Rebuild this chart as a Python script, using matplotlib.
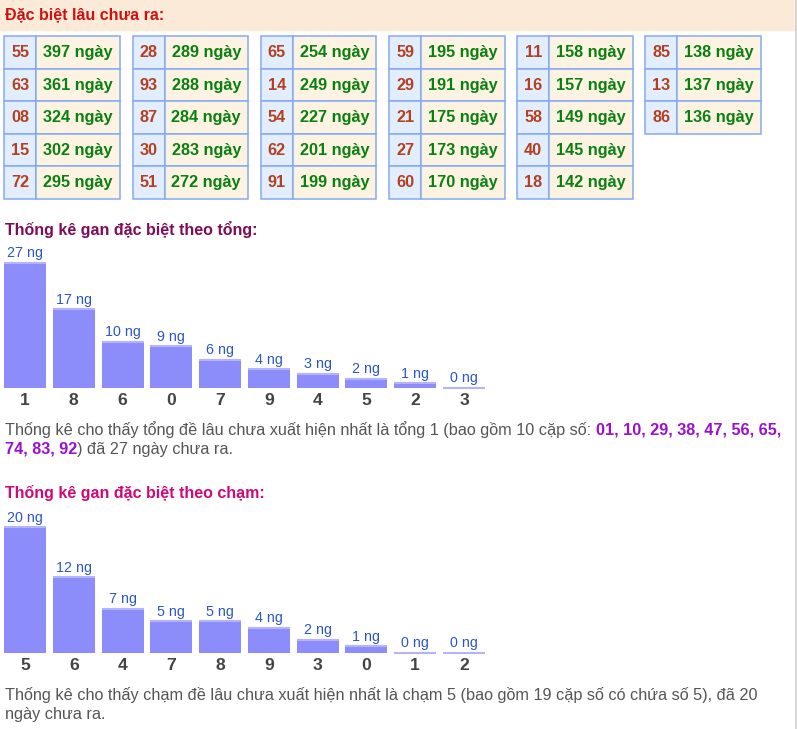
import matplotlib.pyplot as plt
from matplotlib.patches import Rectangle

plt.rcParams['font.family'] = ['Liberation Sans', 'DejaVu Sans']

# data
title_top = "Đặc biệt lâu chưa ra:"
pairs = ["55", "63", "08", "15", "72", "28", "93", "87", "30", "51",
         "65", "14", "54", "62", "91", "59", "29", "21", "27", "60",
         "11", "16", "58", "40", "18", "85", "13", "86"]
days = [397, 361, 324, 302, 295, 289, 288, 284, 283, 272,
        254, 249, 227, 201, 199, 195, 191, 175, 173, 170,
        158, 157, 149, 145, 142, 138, 137, 136]

tong_title = "Thống kê gan đặc biệt theo tổng:"
tong_labels = ["1", "8", "6", "0", "7", "9", "4", "5", "2", "3"]
tong_values = [27, 17, 10, 9, 6, 4, 3, 2, 1, 0]
tong_text = "Thống kê cho thấy tổng đề lâu chưa xuất hiện nhất là tổng 1 (bao gồm 10 cặp số: "
tong_nums1 = "01, 10, 29, 38, 47, 56, 65,"
tong_nums2 = "74, 83, 92"
tong_end = ") đã 27 ngày chưa ra."

cham_title = "Thống kê gan đặc biệt theo chạm:"
cham_labels = ["5", "6", "4", "7", "8", "9", "3", "0", "1", "2"]
cham_values = [20, 12, 7, 5, 5, 4, 2, 1, 0, 0]
cham_text1 = "Thống kê cho thấy chạm đề lâu chưa xuất hiện nhất là chạm 5 (bao gồm 19 cặp số có chứa số 5), đã 20"
cham_text2 = "ngày chưa ra."

W, H = 797, 729
PX = 0.72  # px -> pt at dpi 100

fig = plt.figure(figsize=(W / 100, H / 100), dpi=100)
ax = fig.add_axes([0, 0, 1, 1])
ax.set_xlim(0, W)
ax.set_ylim(H, 0)
ax.axis('off')

# header band
ax.add_patch(Rectangle((0, 0), 795, 29.5, color='#fcead8', zorder=0))
ax.plot([796, 796], [0, H], color='#d0d0d0', lw=1.2)
ax.text(5, 15, title_top, color='#cc1111', fontsize=16 * PX, fontweight='bold', va='center')

# tables
border = '#86aaf2'
row_h = 32.5
for k, (p, d) in enumerate(zip(pairs, days)):
    g, r = divmod(k, 5)
    x0 = 4.5 + g * 128.2
    y0 = 36 + r * row_h
    ax.add_patch(Rectangle((x0, y0), 32, row_h, facecolor='#e2eefd', edgecolor=border, lw=1.1))
    ax.add_patch(Rectangle((x0 + 32, y0), 83.5, row_h, facecolor='#fdf3e2', edgecolor=border, lw=1.1))
    ax.text(x0 + 16, y0 + row_h / 2 + 0.5, p, color='#b3401e', fontsize=16.3 * PX,
            fontweight='bold', ha='center', va='center')
    ax.text(x0 + 32 + 41.5, y0 + row_h / 2 + 0.5, f"{d} ngày", color='#0a8010',
            fontsize=16.3 * PX, fontweight='bold', ha='center', va='center')


def bar_chart(labels, values, bottom_px, top_px):
    w = 0.86
    left, right = 4, 485
    axb = fig.add_axes([left / W, (H - bottom_px) / H, (right - left) / W, (bottom_px - top_px) / H])
    axb.set_xlim(-w / 2, len(values) - 1 + w / 2)
    axb.set_ylim(0, max(values))
    axb.axis('off')
    xs = range(len(values))
    axb.bar(xs, values, width=w, color='#8c8cfb', linewidth=0)
    axb.hlines(values, [x - w / 2 for x in xs], [x + w / 2 for x in xs],
               color='#b4b4fc', lw=1.5, clip_on=False)
    for x, v, lab in zip(xs, values, labels):
        axb.annotate(f"{v} ng", (x, v), xytext=(0, 2), textcoords='offset points',
                     ha='center', va='bottom', color='#2a56c6', fontsize=14.3 * PX,
                     annotation_clip=False)
        axb.annotate(lab, (x, 0), xytext=(0, -3.5), textcoords='offset points',
                     ha='center', va='top', color='#444444', fontsize=17.5 * PX,
                     fontweight='bold', annotation_clip=False)


ax.text(5, 229, tong_title, color='#7d0c5a', fontsize=16 * PX, fontweight='bold', va='center')
bar_chart(tong_labels, tong_values, 388, 263)

FS = 16.2 * PX
para = dict(fontsize=FS, va='center', color='#555555')
t1 = ax.text(5, 430, tong_text, **para)
ax.annotate(tong_nums1, xy=(1, 0.5), xycoords=t1, va='center', fontsize=FS,
            color='#9b10d0', fontweight='bold')
t2 = ax.text(5, 449, tong_nums2, fontsize=FS, va='center', color='#9b10d0', fontweight='bold')
ax.annotate(tong_end, xy=(1, 0.5), xycoords=t2, **para)

ax.text(5, 493, cham_title, color='#cc0a78', fontsize=16 * PX, fontweight='bold', va='center')
bar_chart(cham_labels, cham_values, 652.7, 527.3)

ax.text(5, 695, cham_text1, **para)
ax.text(5, 714, cham_text2, **para)

fig.savefig('out.png', dpi=100)
